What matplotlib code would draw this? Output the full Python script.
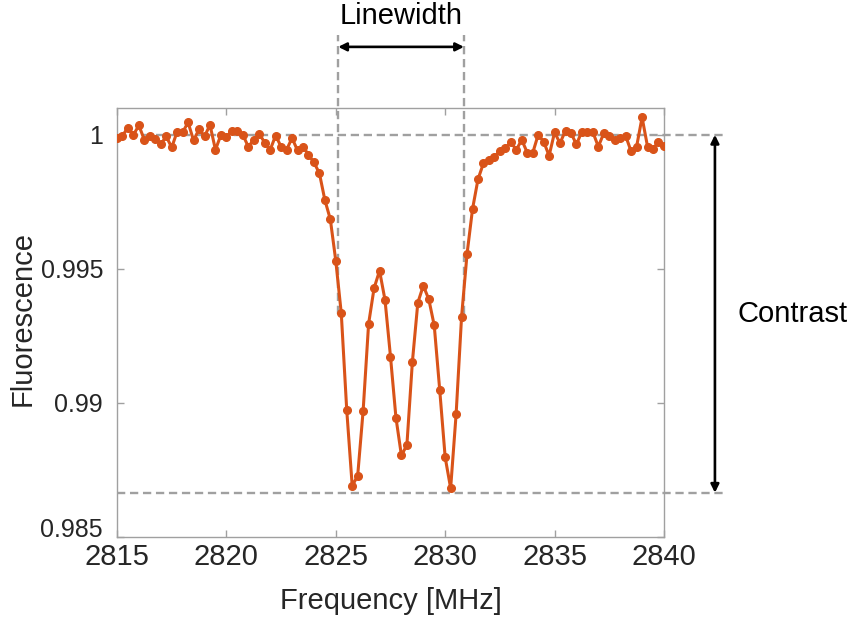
import numpy as np
import matplotlib
matplotlib.use('Agg')
import matplotlib.pyplot as plt
import matplotlib.transforms as mtransforms

plt.rcParams['font.family'] = ['Liberation Sans', 'DejaVu Sans']

# Frequency grid (0.25 MHz steps) and measured fluorescence
freq = np.arange(2815, 2840.001, 0.25)
fluor = [
    0.99988, 0.99997, 1.00027, 1.00000, 1.00035, 0.99981, 0.99996, 0.99984, 0.99965, 0.99994,
    0.99953, 1.00012, 1.00010, 1.00046, 0.99979, 1.00021, 0.99994, 1.00037, 0.99944, 1.00000,
    0.99991, 1.00016, 1.00016, 1.00000, 0.99956, 0.99981, 1.00004, 0.99971, 0.99944, 0.99997,
    0.99956, 0.99944, 0.99988, 0.99942, 0.99956, 0.99926, 0.99897, 0.99857, 0.99757, 0.99685,
    0.99530, 0.99335, 0.98974, 0.98691, 0.98728, 0.98971, 0.99295, 0.99428, 0.99493, 0.99384,
    0.99173, 0.98945, 0.98804, 0.98843, 0.99152, 0.99374, 0.99437, 0.99387, 0.99289, 0.99049,
    0.98797, 0.98682, 0.98958, 0.99322, 0.99556, 0.99723, 0.99834, 0.99894, 0.99907, 0.99919,
    0.99938, 0.99950, 0.99973, 0.99944, 0.99981, 0.99934, 0.99932, 1.00000, 0.99975, 0.99922,
    1.00009, 0.99969, 1.00016, 1.00006, 0.99965, 1.00012, 1.00009, 1.00010, 0.99956, 1.00006,
    0.99997, 0.99979, 0.99988, 0.99996, 0.99938, 0.99956, 1.00065, 0.99956, 0.99947, 0.99975,
    0.99960,
]

# annotation levels
baseline = 1.0
dip_floor = 0.98665
half_level = (baseline + dip_floor) / 2
lw_left, lw_right = 2825.11, 2830.86

x_ticks = [2815, 2820, 2825, 2830, 2835, 2840]
y_ticks = [0.985, 0.99, 0.995, 1.0]
y_labels = ['0.985', '0.99', '0.995', '1']

fig = plt.figure(figsize=(8.51, 6.2), dpi=100)
ax = fig.add_axes([0.1375, 0.1339, 0.6427, 0.6919])

grey = '#a0a0a0'
dash = dict(color=grey, linestyle=(0, (3.5, 2)), linewidth=1.7, clip_on=False, zorder=1)

ax.plot(freq, fluor, color='#D95319', linewidth=2.2, marker='o', markersize=5.5, zorder=3)

ax.set_xlim(2815, 2840)
ax.set_ylim(0.985, 1.001)
ax.set_xticks(x_ticks)
ax.set_yticks(y_ticks)
ax.set_yticklabels(y_labels)

# horizontal reference lines for contrast
x_far = 2842.88
ax.plot([2815, x_far], [baseline, baseline], **dash)
ax.plot([2815, x_far], [dip_floor, dip_floor], **dash)

# vertical reference lines for linewidth
y_top = 1.00373
ax.plot([lw_left, lw_left], [half_level, y_top], **dash)
ax.plot([lw_right, lw_right], [half_level, y_top], **dash)

arrow = dict(arrowstyle='<|-|>', color='black', linewidth=1.9, mutation_scale=12,
             shrinkA=0, shrinkB=0)
ax.annotate('', xy=(lw_left, 1.00328), xytext=(lw_right, 1.00328),
            arrowprops=arrow, annotation_clip=False)
ax.text((lw_left + lw_right) / 2, 1.00445, 'Linewidth', ha='center', va='center',
        fontsize=21, color='black', clip_on=False)

x_arrow = 2842.33
ax.annotate('', xy=(x_arrow, baseline), xytext=(x_arrow, dip_floor),
            arrowprops=arrow, annotation_clip=False)
ax.text(2843.38, half_level, 'Contrast', ha='left', va='center',
        fontsize=21, color='black', clip_on=False)

for s in ax.spines.values():
    s.set_color(grey)
    s.set_linewidth(1.0)
ax.tick_params(direction='in', top=True, right=True, length=5, width=1.0,
               color=grey, labelcolor='#262626')
ax.tick_params(axis='x', pad=4, labelsize=21)
ax.tick_params(axis='y', pad=10, labelsize=18)

# nudge the lowest y label up a little so it clears the first x label
lowest = ax.get_yticklabels()[0]
lowest.set_transform(lowest.get_transform() +
                     mtransforms.ScaledTranslation(0, 7 / 72, fig.dpi_scale_trans))

fig.text(391 / 851, 1 - 601 / 620, 'Frequency [MHz]', ha='center', va='center',
         fontsize=21, color='#262626')
fig.text(23 / 851, 1 - 318 / 620, 'Fluorescence', ha='center', va='center',
         rotation=90, fontsize=21, color='#262626')

fig.savefig('out.png', dpi=100)
